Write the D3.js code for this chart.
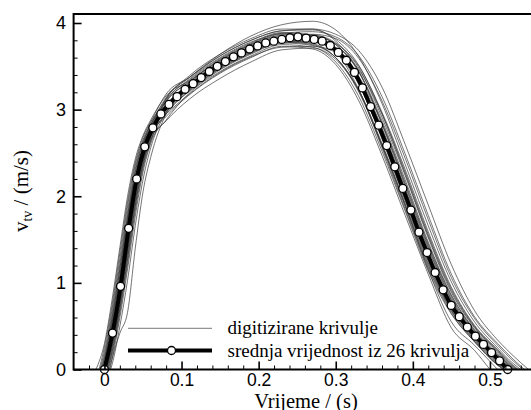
<!DOCTYPE html>
<html><head><meta charset="utf-8">
<script src="https://cdn.jsdelivr.net/npm/d3@7"></script>
<style>
html,body{margin:0;padding:0;background:#fff;overflow:hidden}
.serif{font-family:"Liberation Serif","DejaVu Serif","Noto Serif",serif}
.sans{font-family:"Liberation Sans",Arial,sans-serif}
</style>
</head><body>
<svg id="chart" width="531" height="410"></svg>
<script>
// ---- data ----
const xTicks = [0, 0.1, 0.2, 0.3, 0.4, 0.5];
const xTickLabels = ["0", "0.1", "0.2", "0.3", "0.4", "0.5"];
const yTicks = [0, 1, 2, 3, 4];
const yTickLabels = ["0", "1", "2", "3", "4"];
const xTitle = "Vrijeme / (s)";
const legendLabels = ["digitizirane krivulje", "srednja vrijednost iz 26 krivulja"];

// mean curve (51 points)
const meanTime = [0, 0.0105, 0.0209, 0.0314, 0.0418, 0.0523, 0.0628, 0.0732, 0.0837, 0.0941,
  0.1046, 0.1151, 0.1255, 0.136, 0.1464, 0.1569, 0.1674, 0.1778, 0.1883, 0.1987,
  0.2092, 0.2197, 0.2301, 0.2406, 0.251, 0.2615, 0.272, 0.2824, 0.2929, 0.3033,
  0.3138, 0.3243, 0.3347, 0.3452, 0.3556, 0.3661, 0.3766, 0.387, 0.3975, 0.4079,
  0.4184, 0.4289, 0.4393, 0.4498, 0.4602, 0.4707, 0.4812, 0.4916, 0.5021, 0.5125, 0.523];
const meanVel = [0, 0.42, 0.96, 1.63, 2.20, 2.57, 2.79, 2.95, 3.06, 3.15,
  3.235, 3.30, 3.37, 3.44, 3.50, 3.555, 3.61, 3.655, 3.70, 3.735,
  3.77, 3.79, 3.81, 3.83, 3.84, 3.825, 3.81, 3.79, 3.74, 3.66,
  3.57, 3.43, 3.25, 3.035, 2.82, 2.585, 2.34, 2.09, 1.84, 1.585,
  1.35, 1.12, 0.92, 0.74, 0.61, 0.49, 0.385, 0.29, 0.195, 0.10, 0];

const sampleTime = [0, 0.01, 0.02, 0.03, 0.04, 0.05, 0.06, 0.08, 0.11, 0.15, 0.19, 0.23, 0.27,
  0.30, 0.33, 0.36, 0.39, 0.42, 0.45, 0.48, 0.51, 0.53];
const curveStart = [0, -0.003, 0.003, -0.006, 0.006, -0.002, 0.002, -0.011, 0.007, -0.004,
  0.004, 0.001, -0.001, 0.005, -0.005, 0, 0.002, -0.003, 0.008, -0.007,
  0.001, -0.002, 0.003, -0.001, 0.004, -0.004];
const curveEnd = [0.525, 0.53, 0.52, 0.535, 0.517, 0.537, 0.528, 0.522, 0.527, 0.54,
  0.521, 0.545, 0.51, 0.532, 0.523, 0.55, 0.50, 0.526, 0.534, 0.519,
  0.529, 0.531, 0.524, 0.543, 0.536, 0.518];
const curveValues = [
  [null, .40, .91, 1.54, 2.10, 2.50, 2.74, 3.03, 3.27, 3.52, 3.70, 3.83, 3.81, 3.69, 3.33, 2.72, 2.02, 1.32, .75, .39, .12, null],
  [.09, .55, 1.09, 1.72, 2.23, 2.58, 2.80, 3.10, 3.32, 3.57, 3.75, 3.87, 3.86, 3.75, 3.43, 2.84, 2.14, 1.43, .83, .44, .16, null],
  [null, .26, .75, 1.35, 1.94, 2.39, 2.68, 2.95, 3.22, 3.47, 3.65, 3.78, 3.75, 3.60, 3.22, 2.59, 1.90, 1.21, .68, .34, .07, null],
  [.21, .70, 1.28, 1.89, 2.36, 2.65, 2.85, 3.18, 3.37, 3.62, 3.80, 3.91, 3.92, 3.81, 3.51, 2.95, 2.26, 1.54, .91, .49, .21, .03],
  [null, .13, .60, 1.16, 1.77, 2.28, 2.61, 2.88, 3.19, 3.44, 3.62, 3.75, 3.72, 3.55, 3.15, 2.52, 1.83, 1.14, .64, .32, .05, null],
  [.06, .50, 1.03, 1.66, 2.19, 2.56, 2.78, 3.06, 3.29, 3.54, 3.72, 3.83, 3.84, 3.76, 3.50, 2.97, 2.31, 1.59, .95, .51, .23, .05],
  [null, .30, .81, 1.41, 2.00, 2.43, 2.70, 3.00, 3.25, 3.50, 3.68, 3.80, 3.79, 3.70, 3.37, 2.79, 2.09, 1.39, .80, .42, .14, null],
  [.30, .81, 1.41, 2.00, 2.43, 2.70, 2.88, 3.16, 3.33, 3.58, 3.76, 3.88, 3.85, 3.70, 3.30, 2.66, 1.95, 1.25, .71, .36, .09, null],
  [null, .12, .42, .66, 1.40, 2.05, 2.45, 2.95, 3.24, 3.49, 3.67, 3.79, 3.78, 3.68, 3.35, 2.76, 2.07, 1.36, .78, .41, .14, null],
  [.13, .60, 1.16, 1.77, 2.28, 2.61, 2.82, 3.14, 3.37, 3.64, 3.85, 3.98, 4.02, 3.92, 3.61, 3.07, 2.37, 1.66, 1.01, .55, .25, .07],
  [null, .21, .70, 1.28, 1.89, 2.36, 2.65, 2.87, 3.12, 3.36, 3.55, 3.69, 3.71, 3.58, 3.22, 2.61, 1.92, 1.23, .69, .35, .08, null],
  [null, .35, .86, 1.48, 2.05, 2.46, 2.72, 3.10, 3.35, 3.60, 3.78, 3.88, 3.90, 3.84, 3.62, 3.15, 2.49, 1.78, 1.10, .61, .30, .12],
  [.03, .45, .97, 1.60, 2.14, 2.53, 2.76, 2.98, 3.21, 3.46, 3.64, 3.77, 3.74, 3.60, 3.22, 2.59, 1.90, 1.15, .55, .28, null, null],
  [null, .17, .65, 1.22, 1.83, 2.32, 2.63, 3.03, 3.30, 3.55, 3.73, 3.84, 3.85, 3.75, 3.44, 2.87, 2.19, 1.47, .86, .46, .18, .01],
  [.17, .65, 1.22, 1.83, 2.32, 2.63, 2.83, 3.04, 3.25, 3.50, 3.68, 3.80, 3.78, 3.66, 3.29, 2.67, 1.97, 1.28, .72, .37, .10, null],
  [null, .40, .91, 1.54, 2.10, 2.50, 2.74, 3.13, 3.37, 3.62, 3.80, 3.91, 3.93, 3.87, 3.68, 3.26, 2.60, 1.90, 1.21, .68, .34, .16],
  [null, .30, .81, 1.41, 2.00, 2.43, 2.70, 2.92, 3.17, 3.42, 3.60, 3.73, 3.70, 3.52, 3.10, 2.47, 1.78, 1.10, .48, .22, null, null],
  [.09, .55, 1.09, 1.72, 2.23, 2.58, 2.80, 3.05, 3.27, 3.52, 3.70, 3.82, 3.81, 3.70, 3.35, 2.74, 2.04, 1.34, .77, .40, .13, null],
  [null, .06, .50, 1.03, 1.66, 2.19, 2.56, 2.97, 3.31, 3.56, 3.74, 3.85, 3.86, 3.77, 3.48, 2.91, 2.24, 1.52, .89, .48, .20, .02],
  [.26, .75, 1.35, 1.94, 2.39, 2.68, 2.86, 3.05, 3.23, 3.48, 3.66, 3.79, 3.76, 3.60, 3.20, 2.58, 1.88, 1.19, .67, .33, .06, null],
  [null, .35, .86, 1.48, 2.05, 2.46, 2.72, 3.12, 3.39, 3.64, 3.82, 3.93, 3.93, 3.79, 3.44, 2.83, 2.12, 1.41, .81, .43, .15, null],
  [.06, .50, 1.03, 1.66, 2.19, 2.56, 2.78, 2.95, 3.18, 3.43, 3.61, 3.72, 3.73, 3.66, 3.38, 2.84, 2.16, 1.45, .85, .45, .17, .01],
  [null, .26, .75, 1.35, 1.94, 2.39, 2.68, 3.01, 3.27, 3.52, 3.70, 3.82, 3.80, 3.68, 3.31, 2.70, 2.00, 1.30, .74, .38, .11, null],
  [.03, .45, .97, 1.60, 2.14, 2.53, 2.76, 3.09, 3.32, 3.57, 3.75, 3.86, 3.87, 3.82, 3.59, 3.10, 2.44, 1.73, 1.06, .59, .28, .10],
  [null, .21, .70, 1.28, 1.89, 2.36, 2.65, 2.97, 3.23, 3.48, 3.66, 3.77, 3.78, 3.72, 3.46, 2.95, 2.28, 1.56, .93, .50, .22, .04],
  [.13, .60, 1.16, 1.77, 2.28, 2.61, 2.82, 3.12, 3.34, 3.59, 3.77, 3.89, 3.86, 3.67, 3.23, 2.56, 1.85, 1.17, .65, .32, .05, null]
];

// ---- layout ----
const W = 531, H = 410;
const plotLeft = 73.6, plotBottom = 369.5, plotTop = 14;
const x = d3.scaleLinear().domain([-0.04, 0.56]).range([plotLeft, plotLeft + 0.6 * 771]);
const y = d3.scaleLinear().domain([0, 4]).range([plotBottom, 23]);

const svg = d3.select("#chart");
svg.append("rect").attr("width", W).attr("height", H).attr("fill", "#fff");

svg.append("defs").append("clipPath").attr("id", "plotclip")
  .append("rect").attr("x", plotLeft).attr("y", plotTop).attr("width", W - plotLeft).attr("height", plotBottom - plotTop);

const plot = svg.append("g").attr("clip-path", "url(#plotclip)");

const thinLine = d3.line().x(d => x(d[0])).y(d => y(d[1])).curve(d3.curveMonotoneX);
curveValues.forEach((vals, k) => {
  const pts = [[curveStart[k], 0]];
  sampleTime.forEach((t, i) => {
    if (vals[i] !== null && t > curveStart[k] && t < curveEnd[k]) pts.push([t, vals[i]]);
  });
  pts.push([curveEnd[k], 0]);
  plot.append("path").attr("d", thinLine(pts))
    .attr("fill", "none").attr("stroke", "#3a3a3a").attr("stroke-width", 0.7);
});

// mean curve
const meanPts = meanTime.map((t, i) => [t, meanVel[i]]);
const meanLine = d3.line().x(d => x(d[0])).y(d => y(d[1])).curve(d3.curveMonotoneX);
plot.append("path").attr("d", meanLine(meanPts))
  .attr("fill", "none").attr("stroke", "#000").attr("stroke-width", 4);
svg.append("g").selectAll("circle").data(meanPts).join("circle")
  .attr("cx", d => x(d[0])).attr("cy", d => y(d[1])).attr("r", 4)
  .attr("fill", "#fff").attr("stroke", "#000").attr("stroke-width", 1.3);

// ---- axes ----
const minorX = d3.range(-0.02, 0.56, 0.02).filter(v => Math.abs(Math.round(v * 10) - v * 10) > 1e-6);
const minorY = d3.range(0.2, 4.1, 0.2).filter(v => Math.abs(Math.round(v) - v) > 1e-6);

const gx = svg.append("g").attr("transform", `translate(0,${plotBottom})`)
  .call(d3.axisBottom(x).tickValues(xTicks).tickFormat((d, i) => xTickLabels[i])
    .tickSizeInner(-8).tickSizeOuter(0).tickPadding(4));
gx.attr("font-family", null).attr("font-size", null);
gx.select(".domain").remove();
gx.selectAll(".tick line").attr("stroke", "#000").attr("stroke-width", 1.6);
gx.selectAll("text").attr("class", "sans").attr("font-size", 17.5).attr("fill", "#000");

const gxm = svg.append("g").attr("transform", `translate(0,${plotBottom})`)
  .call(d3.axisBottom(x).tickValues(minorX).tickFormat("").tickSizeInner(-4).tickSizeOuter(0));
gxm.select(".domain").remove();
gxm.selectAll(".tick line").attr("stroke", "#000").attr("stroke-width", 1);

const gy = svg.append("g").attr("transform", `translate(${plotLeft},0)`)
  .call(d3.axisLeft(y).tickValues(yTicks).tickFormat((d, i) => yTickLabels[i])
    .tickSizeInner(-8).tickSizeOuter(0).tickPadding(7.5));
gy.attr("font-family", null).attr("font-size", null);
gy.select(".domain").remove();
gy.selectAll(".tick line").attr("stroke", "#000").attr("stroke-width", 1.6);
gy.selectAll("text").attr("class", "sans").attr("font-size", 18).attr("fill", "#000");

const gym = svg.append("g").attr("transform", `translate(${plotLeft},0)`)
  .call(d3.axisLeft(y).tickValues(minorY).tickFormat("").tickSizeInner(-4).tickSizeOuter(0));
gym.select(".domain").remove();
gym.selectAll(".tick line").attr("stroke", "#000").attr("stroke-width", 1);

// frame
const frame = svg.append("g").attr("stroke", "#000").attr("stroke-width", 2).attr("fill", "none");
frame.append("line").attr("x1", plotLeft).attr("x2", W).attr("y1", plotBottom).attr("y2", plotBottom);
frame.append("line").attr("x1", plotLeft).attr("x2", W).attr("y1", plotTop).attr("y2", plotTop);
frame.append("line").attr("x1", plotLeft).attr("x2", plotLeft).attr("y1", plotTop - 1).attr("y2", plotBottom + 1);

// titles
svg.append("text").attr("class", "serif").attr("x", 306).attr("y", 407.5).attr("text-anchor", "middle")
  .attr("font-size", 20.5).attr("fill", "#000").text(xTitle);

const yt = svg.append("text").attr("class", "serif").attr("transform", "translate(27.5,191) rotate(-90)")
  .attr("text-anchor", "middle").attr("font-size", 21).attr("fill", "#000");
yt.append("tspan").text("v");
yt.append("tspan").attr("font-size", 14).attr("dy", 4).text("tv");
yt.append("tspan").attr("dy", -4).text(" / (m/s)");

// legend
const lg = svg.append("g");
lg.append("line").attr("x1", 128).attr("x2", 212).attr("y1", 328.3).attr("y2", 328.3)
  .attr("stroke", "#555").attr("stroke-width", 0.8);
lg.append("text").attr("class", "serif").attr("x", 227.5).attr("y", 333.5).attr("font-size", 19)
  .attr("fill", "#000").text(legendLabels[0]);
lg.append("line").attr("x1", 128).attr("x2", 212).attr("y1", 350.5).attr("y2", 350.5)
  .attr("stroke", "#000").attr("stroke-width", 4);
lg.append("circle").attr("cx", 171.5).attr("cy", 350.5).attr("r", 4)
  .attr("fill", "#fff").attr("stroke", "#000").attr("stroke-width", 1.3);
lg.append("text").attr("class", "serif").attr("x", 227.5).attr("y", 356.5).attr("font-size", 19)
  .attr("fill", "#000").text(legendLabels[1]);
</script>
</body></html>
